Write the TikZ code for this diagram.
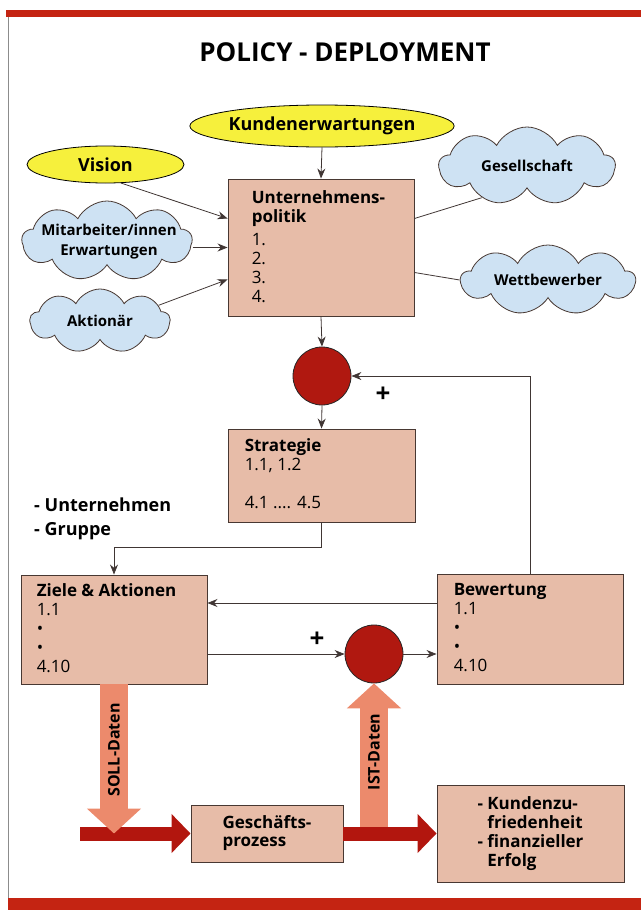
\documentclass[tikz,border=0pt]{standalone}
\usepackage{fontspec}
\setmainfont{Open Sans}
\usetikzlibrary{shapes.geometric,shapes.symbols,arrows.meta}
\definecolor{balken}{RGB}{196,36,18}
\definecolor{kastenfill}{RGB}{231,188,168}
\definecolor{kastenrand}{RGB}{72,56,50}
\definecolor{ovalfill}{RGB}{246,240,60}
\definecolor{wolkenfill}{RGB}{206,226,243}
\definecolor{kreisfill}{RGB}{176,24,16}
\definecolor{flussrot}{RGB}{178,22,14}
\definecolor{datenfill}{RGB}{236,138,108}
\definecolor{linie}{RGB}{64,54,52}
\tikzset{
  kasten/.style={draw=kastenrand, fill=kastenfill, line width=0.9pt, inner sep=0pt},
  ktext/.style={anchor=north west, inner sep=0pt, align=left, font=\fontsize{17}{19}\selectfont},
  wolke/.style={cloud, cloud puffs=9, cloud puff arc=125, cloud ignores aspect, draw=kastenrand,
    fill=wolkenfill, line width=0.8pt, inner sep=0pt},
  wtext/.style={inner sep=0pt, align=center, font=\fontsize{15}{20}\selectfont\bfseries},
  oval/.style={ellipse, draw=black, fill=ovalfill, line width=0.8pt, inner sep=0pt,
    font=\fontsize{18}{20}\selectfont\bfseries},
  kreis/.style={circle, draw=black!85, fill=kreisfill, line width=0.8pt, minimum size=58pt, inner sep=0pt},
  pfeil/.style={->, draw=linie, line width=0.8pt},
  linie/.style={draw=linie, line width=0.8pt},
  fluss/.style={draw=flussrot, line width=14pt, -{Triangle[length=19pt,width=38pt]}},
  daten/.style={draw=datenfill, line width=28pt, -{Triangle[length=25pt,width=53pt]}},
  plus/.style={inner sep=0pt, font=\fontsize{26}{26}\selectfont\bfseries}
}
\begin{document}
\begin{tikzpicture}[x=1pt,y=-1pt,>={Stealth[length=10pt,width=8pt]}]
\useasboundingbox (0,0) rectangle (641,910);
%Rahmen
\fill[balken] (6,10) rectangle (641,17);
\fill[balken] (8,898) rectangle (641,910);
\draw[black!45, line width=0.8pt] (8.5,17) -- (8.5,898);
%Titel
\node[font=\fontsize{26}{30}\selectfont\bfseries] (titel) at (345,52) {POLICY - DEPLOYMENT};
%Ovale und Wolken
\node[oval, minimum width=264pt, minimum height=42pt] (kundenerw) at (322,126) {Kundenerwartungen};
\node[oval, minimum width=157pt, minimum height=37pt] (vision) at (105.5,164.5) {Vision};
\node[wolke, minimum width=170pt, minimum height=80pt] (mitarb) at (107,241) {};
\node[wtext] (mitarbtxt) at (109,242) {Mitarbeiter/innen\\Erwartungen};
\node[wolke, minimum width=140pt, minimum height=64pt] (aktionaer) at (100,321) {};
\node[wtext] (aktionaertxt) at (aktionaer) {Aktionär};
\node[wolke, minimum width=176pt, minimum height=78pt] (gesell) at (527,166) {};
\node[wtext] (gesselltxt) at (gesell) {Gesellschaft};
\node[wolke, minimum width=174pt, minimum height=70pt] (wettb) at (548,280) {};
\node[wtext] (wettbtxt) at (wettb) {Wettbewerber};
%Kasten 1
\node[kasten, minimum width=186pt, minimum height=137pt] (politik) at (321,247.5) {};
\node[ktext] (politiktxt) at ([xshift=24pt,yshift=-12pt]politik.north west)
  {\textbf{Unternehmens-}\\\textbf{politik}\\[4pt]1.\\2.\\3.\\4.};
\draw[pfeil] (kundenerw.south) -- (politik.north);
\draw[pfeil] (vision.-50) -- ([yshift=29pt]politik.west);
\draw[pfeil] (politik.west -| mitarb.east) -- (politik.west);
\draw[pfeil] (aktionaer.15) -- ([yshift=-32pt]politik.west);
\draw[linie] ([yshift=29pt]politik.east) -- (gesell.-145);
\draw[linie] ([yshift=-25pt]politik.east) -- (wettb.west);
%Kreis 1
\node[kreis] (kreis1) at (322,376) {};
\node[plus] (plus1) at (383,395) {+};
\draw[pfeil] (politik.south) -- (kreis1.north);
%Kasten 2
\node[kasten, minimum width=187pt, minimum height=93pt] (strategie) at (321.5,475.5) {};
\node[ktext] (strategietxt) at ([xshift=17pt,yshift=-10pt]strategie.north west)
  {\textbf{Strategie}\\1.1, 1.2\\[19pt]4.1 .... 4.5};
\draw[pfeil] (kreis1.south) -- (strategie.north);
\node[ktext, font=\fontsize{18}{24}\selectfont\bfseries] (ebenen) at (34,498) {- Unternehmen\\- Gruppe};
%Kasten 3, 4
\node[kasten, minimum width=186pt, minimum height=109pt] (ziele) at (114,629.5) {};
\node[ktext] (zieletxt) at ([xshift=16pt,yshift=-9pt]ziele.north west)
  {\textbf{Ziele \& Aktionen}\\1.1\\•\\•\\4.10};
\node[kasten, minimum width=186pt, minimum height=110pt] (bewertung) at (530,629) {};
\node[ktext] (bewertungtxt) at ([xshift=17pt,yshift=-10pt]bewertung.north west)
  {\textbf{Bewertung}\\1.1\\•\\•\\4.10};
\draw[pfeil] (strategie.south) -- ++(0,25) -| (ziele.north);
\draw[pfeil] (bewertung.north) |- (kreis1.east);
\draw[pfeil] ([yshift=26pt]bewertung.west) -- ([yshift=26pt]bewertung.west -| ziele.east);
%Kreis 2
\node[kreis] (kreis2) at (374,654) {};
\node[plus] (plus2) at (317,640) {+};
\draw[pfeil] (kreis2.west -| ziele.east) -- (kreis2.west);
\draw[pfeil] (kreis2.east) -- (kreis2.east -| bewertung.west);
%Prozess
\node[kasten, minimum width=152pt, minimum height=57pt, align=left,
  font=\fontsize{17}{18}\selectfont\bfseries] (prozess) at (267,833.5) {Geschäfts-\\prozess};
\node[kasten, minimum width=187pt, minimum height=97pt, align=left,
  font=\fontsize{17}{19}\selectfont\bfseries] (erfolg) at (530.5,833.5)
  {- Kundenzu-\\\phantom{- }friedenheit\\- finanzieller\\\phantom{- }Erfolg};
\coordinate (eingang) at (80,833.5);
%Datenpfeile
\draw[daten] (kreis2.south |- prozess.east) -- (kreis2.south);
\node[rotate=90, font=\fontsize{16}{18}\selectfont\bfseries] (ist) at (374,752) {IST-Daten};
\draw[fluss] (eingang) -- (prozess.west);
\draw[fluss] (prozess.east) -- (erfolg.west);
\draw[daten] (ziele.south) -- (ziele.south |- prozess.west);
\node[rotate=90, font=\fontsize{16}{18}\selectfont\bfseries] (soll) at (114,750) {SOLL-Daten};
\end{tikzpicture}
\end{document}
